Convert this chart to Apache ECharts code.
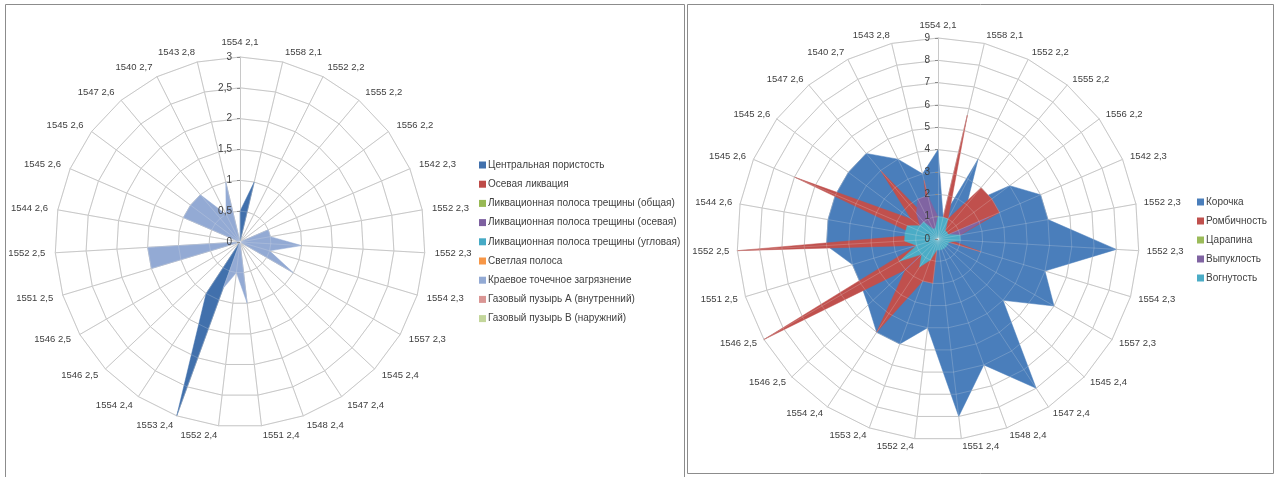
<!DOCTYPE html>
<html><head><meta charset="utf-8">
<script src="https://cdn.jsdelivr.net/npm/echarts@6.0.0/dist/echarts.min.js"></script>
<style>html,body{margin:0;padding:0;background:#fff}#c{width:1283px;height:477px}</style>
</head><body><div id="c"></div>
<script>
// Categories, listed clockwise starting from the top axis
const categories = ['1554 2,1','1558 2,1','1552 2,2','1555 2,2','1556 2,2','1542 2,3','1552 2,3','1552 2,3','1554 2,3','1557 2,3','1545 2,4','1547 2,4','1548 2,4','1551 2,4','1552 2,4','1553 2,4','1554 2,4','1546 2,5','1546 2,5','1551 2,5','1552 2,5','1544 2,6','1545 2,6','1545 2,6','1547 2,6','1540 2,7','1543 2,8'];

// Left chart
const leftNames = ['Центральная пористость','Осевая ликвация','Ликвационная полоса трещины (общая)','Ликвационная полоса трещины (осевая)','Ликвационная полоса трещины (угловая)','Светлая полоса','Краевое точечное загрязнение','Газовый пузырь А (внутренний)','Газовый пузырь В (наружний)'];
const leftColors = ['#4170AC','#BE4B48','#98B954','#7D60A0','#46AAC5','#F79646','#93AAD4','#DA9694','#C3D69B'];
const centralPorosity = [0.5,1,0,0,0,0,0,0,0,0,0,0,0,0,0,3,1,0,0,0,0,0,0,0,0,0,0];
const axialSegregation = [0,0,0,0,0,0,0,0,0,0,0,0,0,0,0,0,0,0,0,0,0,0,0,0,0,0,0];
const crackBandTotal = [0,0,0,0,0,0,0,0,0,0,0,0,0,0,0,0,0,0,0,0,0,0,0,0,0,0,0];
const crackBandAxial = [0,0,0,0,0,0,0,0,0,0,0,0,0,0,0,0,0,0,0,0,0,0,0,0,0,0,0];
const crackBandCorner = [0,0,0,0,0,0,0,0,0,0,0,0,0,0,0,0,0,0,0,0,0,0,0,0,0,0,0];
const lightBand = [0,0,0,0,0,0,0,0,0,0,0,0,0,0,0,0,0,0,0,0,0,0,0,0,0,0,0];
const edgeDotContam = [0,0,0,0,0,0.5,0.5,1,0.5,1,0,0,0,1,0.5,0.8,0,0,0,1.5,1.5,0,1,1,1,0.5,1];
const gasBubbleA = [0,0,0,0,0,0,0,0,0,0,0,0,0,0,0,0,0,0,0,0,0,0,0,0,0,0,0];
const gasBubbleB = [0,0,0,0,0,0,0,0,0,0,0,0,0,0,0,0,0,0,0,0,0,0,0,0,0,0,0];
const leftValues = [centralPorosity, axialSegregation, crackBandTotal, crackBandAxial, crackBandCorner, lightBand, edgeDotContam, gasBubbleA, gasBubbleB];
const leftMax = 3, leftSplit = 6;

// Right chart
const rightNames = ['Корочка','Ромбичность','Царапина','Выпуклость','Вогнутость'];
const rightColors = ['#4A7EBB','#C0504D','#9BBB59','#8064A2','#4BACC6'];
const crust = [4,1,4,2,4,5,5,8,5,6,4,8,6,8,4,5,5,4.3,4,4,5,5,5,5,5,4,3];
const rhombic = [0,5.7,1,3,3,3,1,0.5,2,0,0,0,0,0,2,2,5,2,9,1,9,1,7,1.5,4,1,2.7];
const scratch = [0,0,0,0,0,0,0,0,0,0,0,0,0,0,0,0,0,0,0,0,0,0,0,0,0,0,0];
const convexity = [1,0,0,0,0,2.5,1,0,0,0,0,0,0,0,0,0,0,2,0,0,0,0,0,1,1.5,2,2];
const concavity = [1,1,1,0.5,0.5,0.5,1,1,0.5,0.5,0.5,0.5,0.5,0.5,0.5,1,1.5,1,2,1,1.5,1.5,1.5,1,1,0.5,0.5];
const rightValues = [crust, rhombic, scratch, convexity, concavity];
const rightMax = 9, rightSplit = 9;

const FONT = '"Liberation Sans", Arial, sans-serif';
const GRID = '#BFBFBF';
const TXT = '#404040';

// ECharts radar runs counter-clockwise; reorder so the categories run clockwise
const order = [0].concat(categories.map((_, i) => categories.length - 1 - i).slice(0, categories.length - 1));
const reorder = arr => order.map(i => arr[i]);
const fmt = v => String(v).replace('.', ',');

function makeIndicators(max, withLabels) {
  return reorder(categories).map((name, k) => {
    const ind = { name: name, min: 0, max: max };
    if (withLabels && k === 0) {
      ind.axisLabel = { show: true, formatter: fmt, color: TXT, fontSize: 10, fontFamily: FONT, margin: 8 };
      ind.axisTick = { show: true, length: 3, lineStyle: { color: '#8C8C8C' } };
    }
    return ind;
  });
}

// Base grid (behind the areas)
function radarBase(center, radius, max, split, gap) {
  return {
    center: center, radius: radius, startAngle: 90, shape: 'polygon', z: 0,
    splitNumber: split,
    indicator: makeIndicators(max, false),
    axisName: { color: TXT, fontSize: 9.5, fontFamily: FONT },
    nameGap: gap,
    splitLine: { lineStyle: { color: GRID, width: 1 } },
    splitArea: { show: false },
    axisLine: { lineStyle: { color: GRID, width: 1 } },
    axisLabel: { show: false },
    axisTick: { show: false }
  };
}
// Overlay (faint grid seen through the areas + tick labels on top)
function radarOver(center, radius, max, split) {
  return {
    center: center, radius: radius, startAngle: 90, shape: 'polygon', z: 10,
    splitNumber: split,
    indicator: makeIndicators(max, true),
    axisName: { show: false },
    splitLine: { lineStyle: { color: 'rgba(230,230,230,0.22)', width: 1 } },
    splitArea: { show: false },
    axisLine: { lineStyle: { color: 'rgba(230,230,230,0.22)', width: 1 } },
    axisLabel: { show: false },
    axisTick: { show: false }
  };
}

function makeSeries(names, colors, values, radarIndex) {
  return names.map((n, i) => ({
    type: 'radar', name: n, radarIndex: radarIndex, symbol: 'none', silent: true, z: 2,
    lineStyle: { width: 0.5, color: colors[i] },
    areaStyle: { color: colors[i], opacity: 1 },
    itemStyle: { color: colors[i] },
    data: [{ name: n, value: reorder(values[i]) }]
  }));
}

const legendText = { color: TXT, fontSize: 10, fontFamily: FONT, lineHeight: 12, padding: [0, 0, 0, -3] };

const chart = echarts.init(document.getElementById('c'), null, { renderer: 'canvas' });
chart.setOption({
  animation: false,
  backgroundColor: '#fff',
  color: leftColors.concat(rightColors),
  graphic: [
    { type: 'rect', shape: { x: 5.5, y: 4.5, width: 679, height: 480 }, style: { fill: 'none', stroke: '#8C8C8C', lineWidth: 1 } },
    { type: 'rect', shape: { x: 687.5, y: 4.5, width: 586, height: 469 }, style: { fill: 'none', stroke: '#8C8C8C', lineWidth: 1 } }
  ],
  radar: [
    radarBase([240, 242], 185, leftMax, leftSplit, 10),
    radarBase([938, 239], 201, rightMax, rightSplit, 8),
    radarOver([240, 242], 185, leftMax, leftSplit),
    radarOver([938, 239], 201, rightMax, rightSplit)
  ],
  legend: [
    { orient: 'vertical', left: 479, top: 159, padding: 0, icon: 'rect', itemWidth: 7, itemHeight: 7, itemGap: 7.2,
      textStyle: legendText, data: leftNames, selectedMode: false },
    { orient: 'vertical', left: 1197, top: 196, padding: 0, icon: 'rect', itemWidth: 7, itemHeight: 7, itemGap: 7,
      textStyle: legendText, data: rightNames, selectedMode: false }
  ],
  series: makeSeries(leftNames, leftColors, leftValues, 0).concat(makeSeries(rightNames, rightColors, rightValues, 1))
});
</script>
</body></html>
